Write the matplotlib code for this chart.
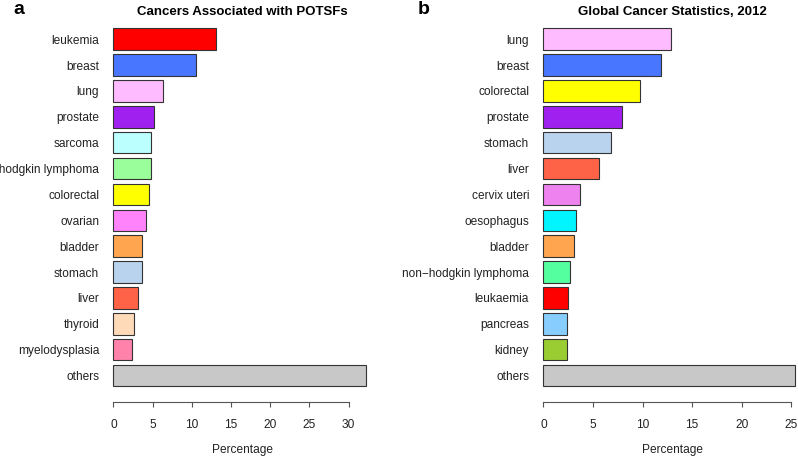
import matplotlib
matplotlib.use("Agg")
import matplotlib.pyplot as plt

plt.rcParams["font.family"] = ["Liberation Sans", "DejaVu Sans"]

# Panel a: cancers associated with POTSFs
potsf_labels = ["leukemia", "breast", "lung", "prostate", "sarcoma",
                "non\u2212hodgkin lymphoma", "colorectal", "ovarian", "bladder",
                "stomach", "liver", "thyroid", "myelodysplasia", "others"]
potsf_values = [13.1, 10.6, 6.3, 5.2, 4.8, 4.8, 4.5, 4.1, 3.7, 3.7, 3.1, 2.6, 2.4, 32.2]
potsf_colors = ["#FF0000", "#4876FF", "#FFBBFF", "#A020F0", "#BBFFFF", "#9AFF9A",
                "#FFFF00", "#FF83FA", "#FFA54F", "#B9D3EE", "#FF6347", "#FFDAB9",
                "#FF82AB", "#C8C8C8"]
potsf_ticks = [0, 5, 10, 15, 20, 25, 30]

# Panel b: global cancer statistics 2012
global_labels = ["lung", "breast", "colorectal", "prostate", "stomach", "liver",
                 "cervix uteri", "oesophagus", "bladder", "non\u2212hodgkin lymphoma",
                 "leukaemia", "pancreas", "kidney", "others"]
global_values = [12.9, 11.9, 9.7, 7.9, 6.8, 5.6, 3.7, 3.3, 3.1, 2.7, 2.5, 2.4, 2.4, 25.4]
global_colors = ["#FFBBFF", "#4876FF", "#FFFF00", "#A020F0", "#B9D3EE", "#FF6347",
                 "#EE82EE", "#00F5FF", "#FFA54F", "#54FF9F", "#FF0000", "#87CEFF",
                 "#9ACD32", "#C8C8C8"]
global_ticks = [0, 5, 10, 15, 20, 25]

W, H = 798, 458
fig = plt.figure(figsize=(W / 100, H / 100), dpi=100)

axis_col = "#555555"


def panel(left_px, xmax, labels, values, colors, ticks, title, letter, letter_x):
    top_px, bottom_px, width_px = 10, 401.7, 279.5
    ax = fig.add_axes([left_px / W, 1 - bottom_px / H, width_px / W,
                       (bottom_px - top_px) / H])
    ypos = list(range(len(labels)))
    ax.barh(ypos, values, height=0.833, color=colors,
            edgecolor="#333333", linewidth=0.8)
    ax.set_xlim(-0.04 * xmax, 1.04 * xmax)
    ax.set_ylim(14.01, -1.13)
    ax.set_yticks(ypos)
    ax.set_yticklabels(labels, fontsize=8.6, color="#222222")
    ax.tick_params(axis="y", length=0, pad=2.8)
    ax.set_xticks(ticks)
    ax.set_xticklabels([str(t) for t in ticks], fontsize=8.6, color="#222222")
    ax.tick_params(axis="x", length=3.6, width=0.8, color=axis_col,
                   direction="out", pad=8.5)
    for s in ["top", "right", "left"]:
        ax.spines[s].set_visible(False)
    ax.spines["bottom"].set_bounds(ticks[0], ticks[-1])
    ax.spines["bottom"].set_color(axis_col)
    ax.spines["bottom"].set_linewidth(0.8)
    ax.set_xlabel("Percentage", fontsize=8.6, color="#222222", labelpad=10)
    cx = (left_px + width_px / 2) / W
    fig.text(cx, 1 - 12 / H, title, ha="center", va="center",
             fontsize=9.5, fontweight="bold")
    fig.text(letter_x / W, 1 - 10 / H, letter, ha="center", va="center",
             fontsize=14, fontweight="bold")
    return ax


panel(103.0, 33.0, potsf_labels, potsf_values, potsf_colors, potsf_ticks,
      "Cancers Associated with POTSFs", "a", 19)
panel(533.0, 26.1, global_labels, global_values, global_colors, global_ticks,
      "Global Cancer Statistics, 2012", "b", 424)

fig.savefig("out.png", dpi=100)
